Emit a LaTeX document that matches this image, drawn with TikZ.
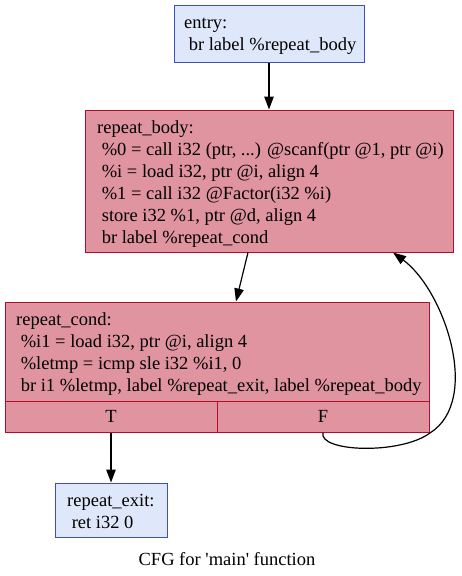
\documentclass[tikz,border=0pt]{standalone}
\usepackage{fontspec}
\setmainfont{Liberation Serif}
\usetikzlibrary{arrows.meta}
\definecolor{bfill}{RGB}{223,232,250}
\definecolor{bdraw}{RGB}{61,80,195}
\definecolor{rfill}{RGB}{223,148,160}
\definecolor{rdraw}{RGB}{183,13,40}
\newcommand\blines[1]{\vtop{\baselineskip=22pt\halign{##\hfil\cr#1\crcr}}}
\begin{document}
\begin{tikzpicture}[x=1pt,y=-1pt,
  every node/.style={font=\fontsize{18.5}{22}\selectfont},
  bluebox/.style={draw=bdraw,fill=bfill,line width=1pt,rectangle,inner sep=0pt},
  redbox/.style={draw=rdraw,fill=rfill,line width=1pt,rectangle,inner sep=0pt},
  txt/.style={inner sep=0pt,anchor=base west},
  edge/.style={draw=black,line width=1.2pt,-{Triangle[length=13pt,width=9.5pt]}}]
\useasboundingbox (0,0) rectangle (461,576);
% boxes
\node[bluebox,minimum width=190pt,minimum height=57pt] (entry) at (269,33.5) {};
\node[redbox,minimum width=368pt,minimum height=142pt] (body) at (269,181) {};
\node[redbox,minimum width=424pt,minimum height=130pt] (cond) at (217,367) {};
\node[redbox,minimum width=212pt,minimum height=31pt] (tport) at (111,416.5) {T};
\node[redbox,minimum width=212pt,minimum height=31pt] (fport) at (323,416.5) {F};
\node[bluebox,minimum width=112pt,minimum height=54pt] (exit) at (111,510) {};
% texts
\node[txt] (entryt) at (184,28) {\blines{entry:\cr \ br label \%repeat\_body}};
\node[txt] (bodyt) at (97,133) {\blines{repeat\_body:\cr
 \ \%0 = call i32 (ptr, ...) @scanf(ptr @1, ptr @i)\cr
 \ \%i = load i32, ptr @i, align 4\cr
 \ \%1 = call i32 @Factor(i32 \%i)\cr
 \ store i32 \%1, ptr @d, align 4\cr
 \ br label \%repeat\_cond}};
\node[txt] (condt) at (16,325) {\blines{repeat\_cond:\cr
 \ \%i1 = load i32, ptr @i, align 4\cr
 \ \%letmp = icmp sle i32 \%i1, 0\cr
 \ br i1 \%letmp, label \%repeat\_exit, label \%repeat\_body}};
\node[txt] (exitt) at (67,506) {\blines{repeat\_exit:\cr \ ret i32 0}};
\node[inner sep=0pt,anchor=base] (cap) at (227,565) {CFG for \textquotesingle main\textquotesingle{} function};
% edges
\draw[edge] (entry.south) -- (body.north);
\draw[edge] ([xshift=-21pt]body.south) -- ([xshift=19pt]cond.north);
\draw[edge] (tport.south) -- (exit.north);
\draw[edge] (fport.south) .. controls (318,452) and (400,455) .. (430,433)
  .. controls (482,400) and (444,290) .. ([xshift=124pt]body.south);
\end{tikzpicture}
\end{document}
